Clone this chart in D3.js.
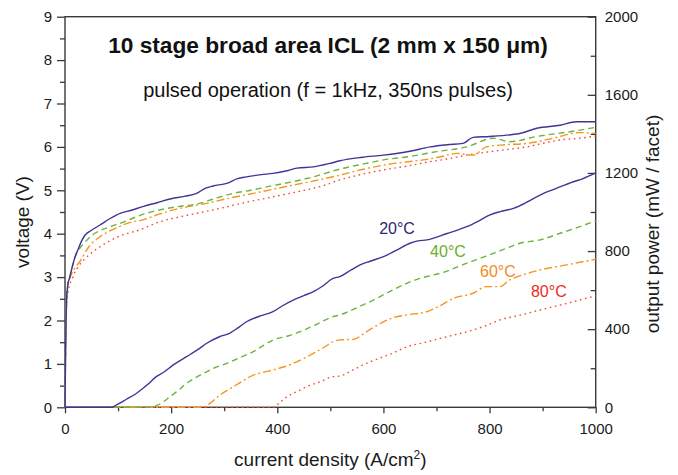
<!DOCTYPE html>
<html><head><meta charset="utf-8">
<script src="https://cdn.jsdelivr.net/npm/d3@7"></script>
<style>
body{margin:0;background:#fff;}
svg{display:block;font-family:"Liberation Sans",Arial,Helvetica,sans-serif;}
</style>
</head><body>
<svg id="chart" width="678" height="475"></svg>
<script>
// ---- data ----
// Voltage curves: current density (A/cm2) and voltage (V)
const currentV20 = [0,1,2,3,5,9,14,19,25,30,38,50,66,85,104,125,148,175,198,225,248,265,279,305,325,342,370,392,418,437,468,499,518,560,600,650,688,720,750,769,800,840,857,889,933,964,1000];
const voltage20  = [0,1.2,2.0,2.47,2.8,3.0,3.25,3.47,3.65,3.8,3.97,4.08,4.2,4.35,4.47,4.54,4.63,4.72,4.8,4.86,4.93,5.05,5.1,5.16,5.27,5.31,5.36,5.39,5.45,5.51,5.54,5.62,5.68,5.76,5.81,5.9,6.0,6.05,6.08,6.22,6.24,6.28,6.31,6.43,6.5,6.58,6.58];

const currentV40 = [0,1,2,3,5,9,14,22,30,41,53,85,104,148,179,210,254,280,317,350,380,430,468,518,560,600,650,700,757,807,838,889,951,1000];
const voltage40  = [0,1.2,2.0,2.5,2.8,3.0,3.25,3.55,3.7,3.85,3.98,4.16,4.24,4.45,4.55,4.62,4.7,4.8,4.93,5.0,5.08,5.2,5.31,5.49,5.6,5.7,5.78,5.89,6.0,6.2,6.12,6.24,6.35,6.45];

const currentV60 = [0,1,2,3,5,10,18,28,45,66,100,129,141,170,204,235,267,310,355,390,430,470,518,560,600,640,675,710,738,769,794,830,870,920,970,1000];
const voltage60  = [0,1.2,2.0,2.45,2.75,3.0,3.2,3.36,3.7,3.93,4.15,4.28,4.3,4.42,4.55,4.63,4.7,4.82,4.93,5.02,5.12,5.22,5.35,5.48,5.58,5.65,5.7,5.78,5.85,5.81,6.0,6.05,6.08,6.2,6.33,6.31];

const currentV80 = [0,1,2,3,5,8,12.6,18,25,40,66,100,141,180,217,260,305,340,380,420,455,490,518,560,600,650,688,720,757,801,840,870,900,933,970,1000];
const voltage80  = [0,1.1,1.9,2.35,2.6,2.8,2.93,3.1,3.24,3.45,3.7,3.93,4.09,4.28,4.39,4.5,4.62,4.72,4.82,4.92,5.01,5.12,5.24,5.37,5.47,5.57,5.66,5.72,5.81,5.89,5.95,6.0,6.08,6.16,6.2,6.25];

// Output power curves: current density (A/cm2) and power (mW / facet)
const currentP20 = [0,88,97,115,135,155,172,185,204,229,250,267,290,310,325,342,365,392,410,430,450,468,485,505,518,540,556,575,600,625,650,665,682,720,757,780,801,820,845,870,895,925,958,975,1000];
const power20    = [0,0,12,40,72,115,157,178,217,259,295,328,360,379,405,438,465,490,520,549,572,592,620,660,669,705,729,748,771,805,840,852,857,890,925,955,985,1002,1019,1050,1087,1120,1155,1170,1200];

const currentP40 = [0,158,175,198,215,229,245,261,280,305,330,355,375,392,420,443,470,505,518,550,581,610,644,663,685,707,745,782,807,830,857,895,933,965,1000];
const power40    = [0,0,12,54,90,123,150,174,200,225,255,285,318,345,365,387,420,464,473,510,549,590,635,655,672,686,725,763,788,812,840,857,891,920,955];

const currentP60 = [0,258,273,292,317,335,355,375,392,410,430,450,468,490,505,518,543,570,600,620,644,682,710,732,769,794,819,838,865,895,945,975,1000];
const power60    = [0,0,20,63,105,135,165,180,191,205,225,250,276,310,336,345,348,390,438,460,473,490,525,558,584,618,618,652,680,703,729,745,758];

const currentP80 = [0,392,405,418,437,455,480,505,518,545,568,600,620,644,675,707,740,769,795,819,855,895,925,958,1000];
const power80    = [0,0,25,54,80,105,130,157,160,195,225,259,280,310,330,353,375,396,420,447,470,498,518,541,570];

// Temperature labels (text, anchor in data units: current density, power)
const tempLabels = ["20°C","40°C","60°C","80°C"];
const tempLabelX = [592,688,782,878];
const tempLabelP = [887,771,669,566];

// Axis ticks
const xTicks  = [0,200,400,600,800,1000];
const yVTicks = [0,1,2,3,4,5,6,7,8,9];
const yPTicks = [0,400,800,1200,1600,2000];

const titleText    = "10 stage broad area ICL (2 mm x 150 μm)";
const subtitleText = "pulsed operation (f = 1kHz, 350ns pulses)";

// ---- styles ----
const colors = ["#3f3597","#6db33f","#f7941e","#f04e30"];
const labelColors = ["#2b2775","#6aae2a","#f58a25","#ee2b24"];
const dashes = [null,"6,4","8,3,2,3","1.6,3.6"];

// ---- chart ----
const svg = d3.select("#chart");
const L = 65, R = 595.7, T = 16.7, B = 407.3;
const x  = d3.scaleLinear().domain([0,1000]).range([L,R]);
const yV = d3.scaleLinear().domain([0,9]).range([B,T]);
const yP = d3.scaleLinear().domain([0,2000]).range([B,T]);

const axisColor = "#3a3a3a";

// frame
svg.append("rect").attr("x",L).attr("y",T).attr("width",R-L).attr("height",B-T)
  .attr("fill","none").attr("stroke",axisColor).attr("stroke-width",1.4);

function styleAxis(g){
  g.select(".domain").remove();
  g.selectAll("line").attr("stroke",axisColor).attr("stroke-width",1.3);
  g.selectAll("text").attr("fill","#1a1a1a").attr("font-size",15).attr("font-family","Liberation Sans, Arial, sans-serif");
}

// bottom axis
const minorX = d3.range(100,1000,200);
svg.append("g").attr("transform",`translate(0,${B})`)
  .call(d3.axisBottom(x).tickValues(minorX).tickSize(4).tickFormat(""))
  .call(styleAxis);
svg.append("g").attr("transform",`translate(0,${B})`)
  .call(d3.axisBottom(x).tickValues(xTicks).tickSize(6).tickPadding(10).tickFormat(d3.format("d")))
  .call(styleAxis);

// left axis
const minorV = d3.range(0.5,9,1);
svg.append("g").attr("transform",`translate(${L},0)`)
  .call(d3.axisLeft(yV).tickValues(minorV).tickSize(5).tickFormat(""))
  .call(styleAxis);
svg.append("g").attr("transform",`translate(${L},0)`)
  .call(d3.axisLeft(yV).tickValues(yVTicks).tickSize(8).tickPadding(5).tickFormat(d3.format("d")))
  .call(styleAxis);

// right axis (ticks inward)
const minorP = d3.range(200,2000,400);
svg.append("g").attr("transform",`translate(${R},0)`)
  .call(d3.axisRight(yP).tickValues(minorP).tickSize(-5).tickFormat(""))
  .call(styleAxis);
svg.append("g").attr("transform",`translate(${R},0)`)
  .call(d3.axisRight(yP).tickValues(yPTicks).tickSize(-8).tickPadding(9).tickFormat(d3.format("d")))
  .call(styleAxis);

// axis titles
svg.append("text").attr("x",(L+R)/2).attr("y",466).attr("text-anchor","middle")
  .attr("font-size",19).attr("fill","#1a1a1a")
  .html('current density (A/cm<tspan dy="-7" font-size="12">2</tspan><tspan dy="7">)</tspan>');
svg.append("text").attr("transform",`translate(29,${222}) rotate(-90)`).attr("text-anchor","middle")
  .attr("font-size",19).attr("fill","#1a1a1a").text("voltage (V)");
svg.append("text").attr("transform",`translate(659,${224}) rotate(-90)`).attr("text-anchor","middle")
  .attr("font-size",19).attr("fill","#1a1a1a").text("output power (mW / facet)");

// titles
svg.append("text").attr("x",328).attr("y",53).attr("text-anchor","middle")
  .attr("font-size",22.7).attr("font-weight","bold").attr("fill","#111").text(titleText);
svg.append("text").attr("x",328).attr("y",97).attr("text-anchor","middle")
  .attr("font-size",20).attr("fill","#111").text(subtitleText);

// series
const vSeries = [[currentV20,voltage20],[currentV40,voltage40],[currentV60,voltage60],[currentV80,voltage80]];
const pSeries = [[currentP20,power20],[currentP40,power40],[currentP60,power60],[currentP80,power80]];

const plot = svg.append("g");
const lineV = d3.line().x(d=>x(d[0])).y(d=>yV(d[1])).curve(d3.curveMonotoneX);
const lineP = d3.line().x(d=>x(d[0])).y(d=>yP(d[1])).curve(d3.curveMonotoneX);

// draw from 80°C to 20°C so 20°C is on top
for (let i=3;i>=0;i--){
  const vd = vSeries[i][0].map((c,k)=>[c,vSeries[i][1][k]]);
  const pd = pSeries[i][0].map((c,k)=>[c,pSeries[i][1][k]]);
  [[vd,lineV],[pd,lineP]].forEach(([d,ln])=>{
    plot.append("path").attr("d",ln(d)).attr("fill","none")
      .attr("stroke",colors[i]).attr("stroke-width",1.4)
      .attr("stroke-dasharray",dashes[i]);
  });
}

// temperature labels
tempLabels.forEach((t,i)=>{
  svg.append("text").attr("x",x(tempLabelX[i])).attr("y",yP(tempLabelP[i]))
    .attr("font-size",16).attr("fill",labelColors[i]).text(t);
});
</script>
</body></html>
